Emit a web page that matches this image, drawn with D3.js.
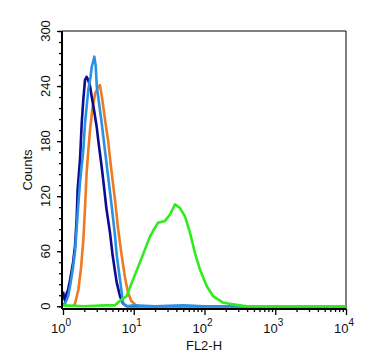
<!DOCTYPE html>
<html>
<head>
<meta charset="utf-8">
<script src="https://cdn.jsdelivr.net/npm/d3@7"></script>
<style>
  html, body { margin: 0; padding: 0; background: #fff; }
  svg { display: block; font-family: "Liberation Sans", Arial, Helvetica, sans-serif; }
</style>
</head>
<body>
<svg id="chart" width="368" height="364"></svg>
<script>
// ---- data (FL2-H intensity, counts) ----
const navyX   = [1.00,1.03,1.07,1.10,1.18,1.26,1.39,1.48,1.56,1.61,1.74,1.84,1.94,2.05,2.16,2.28,2.41,2.55,2.77,3.00,3.16,3.52,3.80,4.10,4.62,5.00,5.43,5.74,6.39,7.05,8.00,10000];
const navyY   = [16,10,6,12,18,29,48,66,95,127,160,200,226,247,250,246,240,228,212,195,180,152,130,107,80,57,38,26,11,3,0,0];
const lblueX  = [1.00,1.07,1.18,1.26,1.39,1.48,1.64,1.74,1.94,2.05,2.28,2.45,2.55,2.70,2.77,2.90,3.00,3.52,4.00,4.33,4.88,5.43,5.74,6.39,7.05,7.50,8.00,10,20,50,100,230,10000];
const lblueY  = [2,3,11,22,43,60,109,135,171,200,236,250,261,268,272,262,240,200,164,142,109,77,56,29,4,1,0,1,0,1,0,0,0];
const orangeX = [1.40,1.48,1.65,1.80,1.94,2.05,2.16,2.28,2.41,2.60,2.85,3.10,3.33,3.60,3.90,4.33,4.80,5.43,6.00,6.76,7.50,8.30,9.20,10.4,11.5];
const orangeY = [0,3,18,42,73,108,146,170,192,215,232,238,241,225,205,181,150,116,85,55,32,15,6,2,0];
const greenX  = [1.00,2.00,4.00,5.43,6.39,7.95,9.76,12.25,14.42,16.97,18.71,22.02,27.65,32.53,38.29,45.06,53.02,62.39,73.41,86.38,107.4,131.9,182.6,252.8,394.9,1000,10000];
const greenY  = [1,0,1,1,6,11,29,48,62,76,82,91,93,100,111,107,98,80,58,40,22,11,4,2,0,0,0];

const yMajor = [0,60,120,180,240,300];
const yMinor = d3.range(0, 301, 12);
const xMajor = [1,10,100,1000,10000];
const xExp   = ["0","1","2","3","4"];
const xMinor = [];
[1,10,100,1000].forEach(d => { for (let k = 2; k <= 9; k++) xMinor.push(d*k); });

const series = [
  {x: orangeX, y: orangeY, color: "#ee7a22"},
  {x: navyX,   y: navyY,   color: "#0c0c8e"},
  {x: lblueX,  y: lblueY,  color: "#2a90e4"},
  {x: greenX,  y: greenY,  color: "#2fec1e"}
];

// ---- layout ----
const svg = d3.select("#chart");
const L = 62, R = 346, T = 31, B = 309;
const x = d3.scaleLog().domain([1, 10000]).range([L + 1, R]);
const y = d3.scaleLinear().domain([-3, 300]).range([B, T]);

// frame (top and right)
svg.append("path")
  .attr("d", `M${L},${T}H${R}V${B}`)
  .attr("fill", "none").attr("stroke", "#000").attr("stroke-width", 1);

// curves
const line = d3.line().x(d => x(d[0])).y(d => y(d[1])).curve(d3.curveLinear);
series.forEach(s => {
  svg.append("path")
    .datum(s.x.map((v, i) => [v, s.y[i]]))
    .attr("d", line)
    .attr("fill", "none")
    .attr("stroke", s.color)
    .attr("stroke-width", 2.6)
    .attr("stroke-linejoin", "round");
});

// y axis
const yAxisG = svg.append("g").attr("transform", `translate(${L},0)`);
yAxisG.call(d3.axisLeft(y).tickValues(yMinor).tickSize(3).tickFormat(""));
yAxisG.call(g => g.append("g").call(d3.axisLeft(y).tickValues(yMajor).tickSize(5).tickFormat("")));
yAxisG.selectAll(".domain").remove();
yAxisG.selectAll("line").attr("stroke", "#000").attr("stroke-width", 1.3);
svg.append("line").attr("x1", L).attr("x2", L).attr("y1", T).attr("y2", B)
  .attr("stroke", "#000").attr("stroke-width", 2);

yMajor.forEach(v => {
  svg.append("text")
    .attr("transform", `translate(50,${y(v)}) rotate(-90)`)
    .attr("text-anchor", "middle")
    .attr("font-size", 13)
    .attr("fill", "#111")
    .text(v);
});
svg.append("text")
  .attr("transform", `translate(32,${(T + B) / 2}) rotate(-90)`)
  .attr("text-anchor", "middle")
  .attr("font-size", 13)
  .attr("fill", "#111")
  .text("Counts");

// x axis
const xAxisG = svg.append("g").attr("transform", `translate(0,${B})`);
xAxisG.call(d3.axisBottom(x).tickValues(xMinor).tickSize(3).tickFormat(""));
xAxisG.call(g => g.append("g").call(d3.axisBottom(x).tickValues(xMajor).tickSize(6).tickFormat("")));
xAxisG.selectAll(".domain").remove();
xAxisG.selectAll("line").attr("stroke", "#000").attr("stroke-width", 1.3);
svg.append("line").attr("x1", L).attr("x2", R).attr("y1", B).attr("y2", B)
  .attr("stroke", "#000").attr("stroke-width", 2);

xMajor.forEach((v, i) => {
  const t = svg.append("text")
    .attr("x", x(v) - 2).attr("y", 333)
    .attr("text-anchor", "middle")
    .attr("font-size", 13)
    .attr("fill", "#111");
  t.append("tspan").text("10");
  t.append("tspan").attr("dy", -7).attr("font-size", 10).text(xExp[i]);
});
svg.append("text")
  .attr("x", (L + R) / 2).attr("y", 350)
  .attr("text-anchor", "middle")
  .attr("font-size", 13)
  .attr("fill", "#111")
  .text("FL2-H");
</script>
</body>
</html>
